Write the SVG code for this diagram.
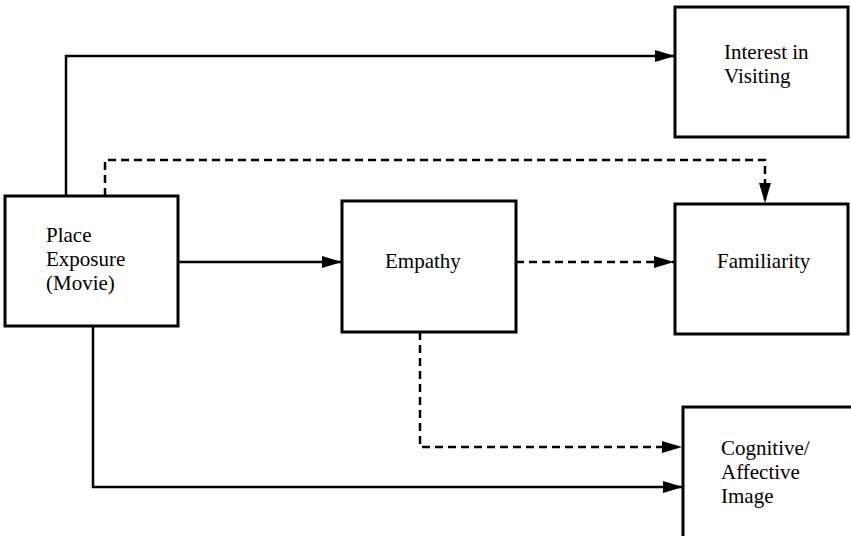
<svg xmlns="http://www.w3.org/2000/svg" width="851" height="536" viewBox="0 0 851 536">
<defs>
<style>
.box{fill:#fff;stroke:#000;stroke-width:3}
.ln{fill:none;stroke:#000;stroke-width:2.5}
.dash{fill:none;stroke:#000;stroke-width:2.5;stroke-dasharray:8 5}
.t{font-family:'Liberation Serif','Times New Roman','DejaVu Serif',serif;font-size:21px;fill:#000}
</style>
<marker id="ah" markerWidth="20" markerHeight="12" refX="20" refY="6" orient="auto" markerUnits="userSpaceOnUse">
<path d="M0,0 L20,6 L0,12 Z" fill="#000"/>
</marker>
</defs>
<rect width="851" height="536" fill="#fff"/>
<g id="connectors">
<path class="ln" d="M66,196 V56 H675" marker-end="url(#ah)"/>
<path class="dash" d="M105,196 V160 H765 V203" marker-end="url(#ah)"/>
<path class="ln" d="M178,262 H342" marker-end="url(#ah)"/>
<path class="dash" d="M516,262 H674" marker-end="url(#ah)"/>
<path class="dash" d="M420,332 V447 H682" marker-end="url(#ah)"/>
<path class="ln" d="M93,326 V487 H683" marker-end="url(#ah)"/>
</g>
<g id="place">
<rect class="box" x="5" y="196" width="173" height="130"/>
<text class="t" x="46" y="242">Place</text>
<text class="t" x="46" y="266">Exposure</text>
<text class="t" x="46" y="290">(Movie)</text>
</g>
<g id="empathy">
<rect class="box" x="342" y="201" width="174" height="131"/>
<text class="t" x="385" y="268">Empathy</text>
</g>
<g id="interest">
<rect class="box" x="675" y="7" width="173" height="130"/>
<text class="t" x="724" y="59">Interest in</text>
<text class="t" x="724" y="83">Visiting</text>
</g>
<g id="familiarity">
<rect class="box" x="675" y="204" width="173" height="130"/>
<text class="t" x="717" y="268">Familiarity</text>
</g>
<g id="cognitive">
<rect class="box" x="683" y="407" width="180" height="140"/>
<text class="t" x="721" y="455">Cognitive/</text>
<text class="t" x="721" y="479">Affective</text>
<text class="t" x="721" y="503">Image</text>
</g>
</svg>
